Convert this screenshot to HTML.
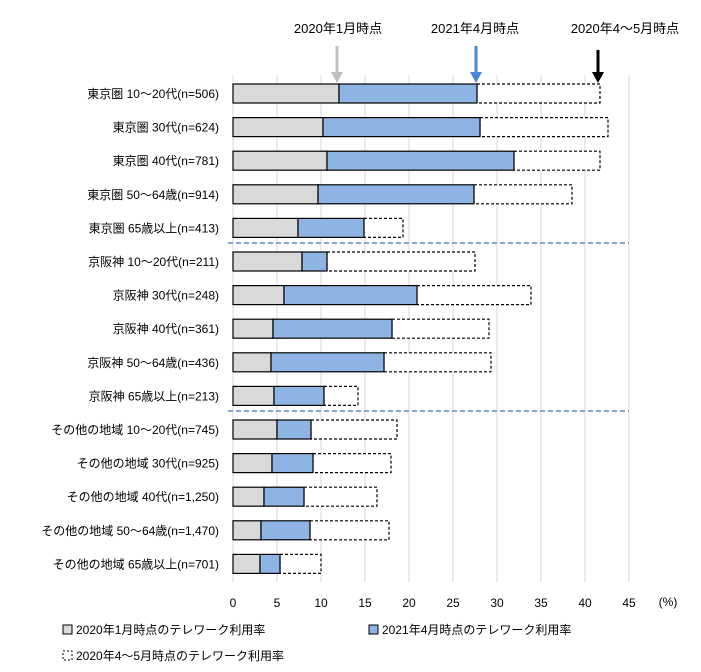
<!DOCTYPE html><html><head><meta charset="utf-8"><style>body{margin:0;background:#fff}svg{display:block;font-family:"Liberation Sans","Noto Sans CJK JP",sans-serif}</style></head><body>
<svg width="701" height="672" xmlns="http://www.w3.org/2000/svg">
<g stroke="#d9d9d9" stroke-width="1">
<line x1="233" y1="75" x2="233" y2="582"/><line x1="277" y1="75" x2="277" y2="582"/><line x1="321" y1="75" x2="321" y2="582"/><line x1="365" y1="75" x2="365" y2="582"/><line x1="409" y1="75" x2="409" y2="582"/><line x1="453" y1="75" x2="453" y2="582"/><line x1="497" y1="75" x2="497" y2="582"/><line x1="541" y1="75" x2="541" y2="582"/><line x1="585" y1="75" x2="585" y2="582"/><line x1="629" y1="75" x2="629" y2="582"/>
</g>
<g stroke="#4472c4" stroke-dasharray="5,3" stroke-width="1.2"><line x1="228" y1="243" x2="629" y2="243"/><line x1="228" y1="411" x2="629" y2="411"/></g>
<g id="bars" stroke="#000" stroke-width="1.2"></g>
<g font-size="12" fill="#000" text-anchor="middle">
<text x="233" y="607">0</text><text x="277" y="607">5</text><text x="321" y="607">10</text><text x="365" y="607">15</text><text x="409" y="607">20</text><text x="453" y="607">25</text><text x="497" y="607">30</text><text x="541" y="607">35</text><text x="585" y="607">40</text><text x="629" y="607">45</text><text x="668" y="606">(%)</text>
<text x="338" y="33" font-size="13">2020年1月時点</text><text x="475" y="33" font-size="13">2021年4月時点</text><text x="625" y="33" font-size="13">2020年4～5月時点</text>
</g>
<line x1="337" y1="46" x2="337" y2="74" stroke="#bfbfbf" stroke-width="3"/><polygon points="331,72 343,72 337,83" fill="#bfbfbf"/>
<line x1="476" y1="46" x2="476" y2="74" stroke="#4a86d8" stroke-width="3"/><polygon points="470,72 482,72 476,83" fill="#4a86d8"/>
<line x1="598" y1="50" x2="598" y2="74" stroke="#000" stroke-width="3"/><polygon points="592,72 604,72 598,83" fill="#000"/>
<g font-size="12">
<rect x="63" y="625" width="9" height="9" fill="#d9d9d9" stroke="#000"/><text x="76" y="634">2020年1月時点のテレワーク利用率</text>
<rect x="369" y="625" width="9" height="9" fill="#8eb4e3" stroke="#000"/><text x="382" y="634">2021年4月時点のテレワーク利用率</text>
<rect x="63" y="651" width="9" height="9" fill="#fff" stroke="#000" stroke-dasharray="2,2"/><text x="76" y="660">2020年4～5月時点のテレワーク利用率</text>
</g>
<g id="labels" font-size="12" text-anchor="end"></g>
</svg>
<script>
var d=[["東京圏 10～20代(n=506)",339,477,600],["東京圏 30代(n=624)",323,480,608],["東京圏 40代(n=781)",327,514,600],["東京圏 50～64歳(n=914)",318,474,572],["東京圏 65歳以上(n=413)",298,364,403],["京阪神 10～20代(n=211)",302,327,475],["京阪神 30代(n=248)",284,417,531],["京阪神 40代(n=361)",273,392,489],["京阪神 50～64歳(n=436)",271,384,491],["京阪神 65歳以上(n=213)",274,324,358],["その他の地域 10～20代(n=745)",277,311,397],["その他の地域 30代(n=925)",272,313,391],["その他の地域 40代(n=1,250)",264,304,377],["その他の地域 50～64歳(n=1,470)",261,310,389],["その他の地域 65歳以上(n=701)",260,280,321]];
var ns="http://www.w3.org/2000/svg",b=document.getElementById("bars"),l=document.getElementById("labels");
function r(x,y,w,h,f,da){var e=document.createElementNS(ns,"rect");e.setAttribute("x",x);e.setAttribute("y",y);e.setAttribute("width",w);e.setAttribute("height",h);e.setAttribute("fill",f);if(da)e.setAttribute("stroke-dasharray",da);b.appendChild(e);}
d.forEach(function(a,i){var y=84+i*33.6;r(a[2],y,a[3]-a[2],19,"#fff","3,2");r(233,y,a[1]-233,19,"#d9d9d9");r(a[1],y,a[2]-a[1],19,"#8eb4e3");var t=document.createElementNS(ns,"text");t.setAttribute("x",219);t.setAttribute("y",y+14);t.textContent=a[0];l.appendChild(t);});
</script>
</body></html>
